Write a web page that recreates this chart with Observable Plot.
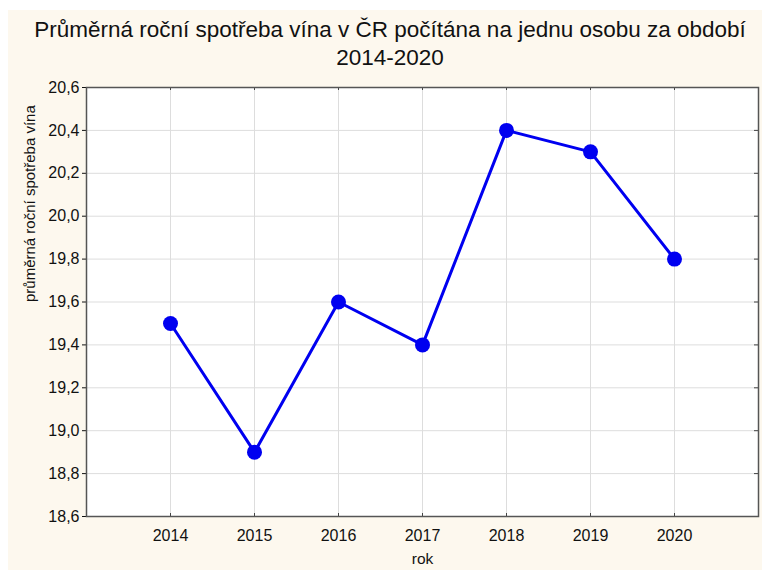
<!DOCTYPE html>
<html><head><meta charset="utf-8">
<script src="https://cdn.jsdelivr.net/npm/d3@7"></script>
<script src="https://cdn.jsdelivr.net/npm/@observablehq/plot@0.6"></script>
<style>
body{margin:0;background:#fff;}
#wrap{position:absolute;left:8px;top:10px;width:754px;height:560px;background:#fdf8ee;font-family:"Liberation Sans",Arial,sans-serif;}
#title{padding-top:6px;padding-left:10px;height:56px;text-align:center;font-size:22.5px;line-height:28px;color:#111;white-space:nowrap;}
#chart svg{display:block;}
</style></head><body>
<div id="wrap"><div id="title">Průměrná roční spotřeba vína v ČR počítána na jednu osobu za období<br>2014-2020</div><div id="chart"></div></div>
<script>
const years = [2014, 2015, 2016, 2017, 2018, 2019, 2020];
const consumption = [19.5, 18.9, 19.6, 19.4, 20.4, 20.3, 19.8];
const yTicks = [18.6, 18.8, 19.0, 19.2, 19.4, 19.6, 19.8, 20.0, 20.2, 20.4, 20.6];
const xLabel = "rok";
const yLabel = "průměrná roční spotřeba vína";

const data = years.map((year, i) => ({year, value: consumption[i]}));
const fmt = d => d.toFixed(1).replace(".", ",");
const font = '"Liberation Sans", Arial, sans-serif';
const plot = Plot.plot({
  width: 754, height: 498,
  marginLeft: 78, marginRight: 4, marginTop: 15, marginBottom: 54,
  style: {background: "transparent", fontFamily: font, fontSize: "16px", color: "#111"},
  x: {domain: [2013, 2021]},
  y: {domain: [18.6, 20.6]},
  marks: [
    Plot.frame({fill: "white"}),
    Plot.gridX(years, {stroke: "#dddddd", strokeOpacity: 1}),
    Plot.gridY(yTicks, {stroke: "#dddddd", strokeOpacity: 1}),
    Plot.tickX(years, {x: d => d, insetTop: 426, stroke: "#444"}),
    Plot.tickX(years, {x: d => d, insetBottom: 426, stroke: "#444"}),
    Plot.tickY(yTicks, {y: d => d, insetLeft: 668, stroke: "#444"}),
    Plot.axisY({ticks: yTicks, tickSize: 4, tickPadding: 3, tickFormat: fmt, label: null, fontSize: 16}),
    Plot.axisX({ticks: years, tickSize: 0, tickPadding: 13, tickFormat: d => String(d), label: null, fontSize: 16}),
    Plot.line(data, {x: "year", y: "value", stroke: "#0000f0", strokeWidth: 3}),
    Plot.dot(data, {x: "year", y: "value", r: 7.5, fill: "#0000f0"}),
    Plot.frame({stroke: "#555", strokeWidth: 1.5}),
    Plot.text([xLabel], {text: d => d, frameAnchor: "bottom", dy: 47, fontSize: 15.5, fill: "#111"}),
    Plot.text([yLabel], {text: d => d, frameAnchor: "left", rotate: -90, dx: -56, fontSize: 15, fill: "#111"})
  ]
});
document.getElementById("chart").appendChild(plot);
</script>
</body></html>
